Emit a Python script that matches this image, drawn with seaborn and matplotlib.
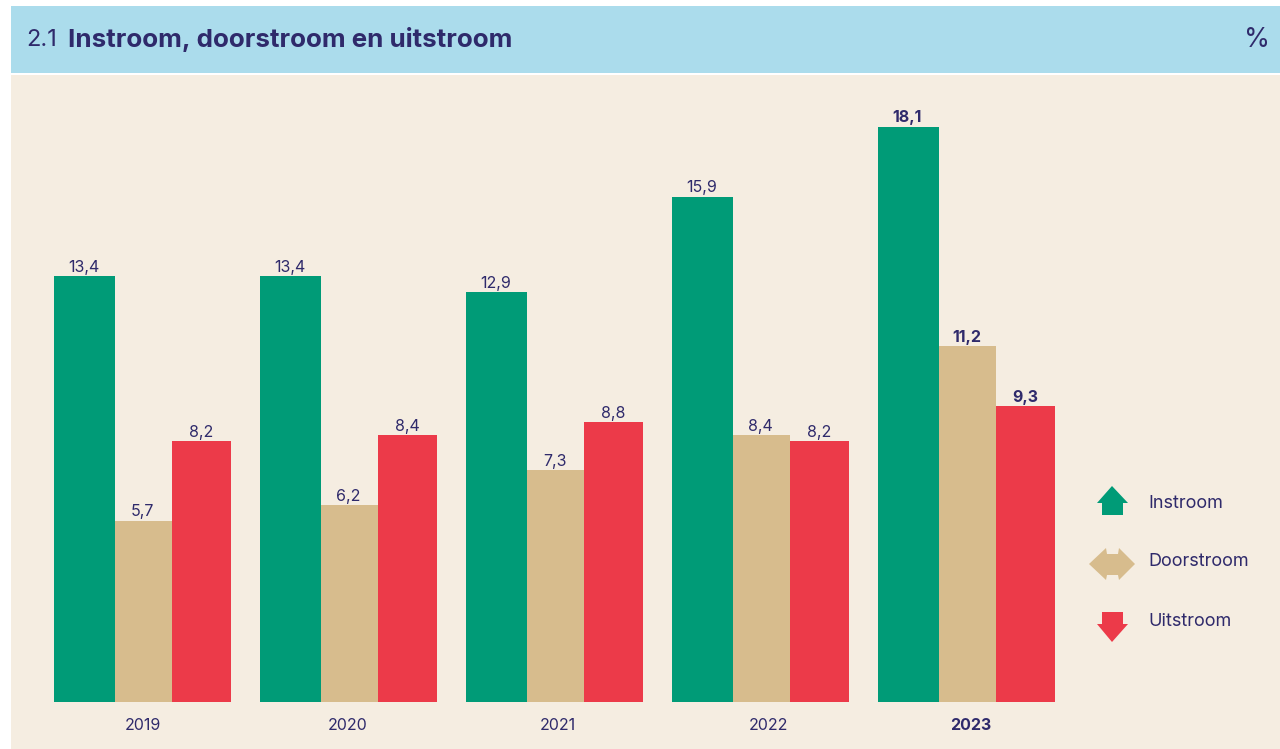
import matplotlib
matplotlib.use('Agg')
import matplotlib.pyplot as plt
from matplotlib.patches import Polygon, Rectangle
import seaborn as sns
import pandas as pd

####### Data #######
years = ['2019', '2020', '2021', '2022', '2023']
instroom = [13.4, 13.4, 12.9, 15.9, 18.1]
doorstroom = [5.7, 6.2, 7.3, 8.4, 11.2]
uitstroom = [8.2, 8.4, 8.8, 8.2, 9.3]
series_names = ['Instroom', 'Doorstroom', 'Uitstroom']
series_colors = ['#009b77', '#d7bc8d', '#ec3a49']
title_nr = '2.1'
title_txt = 'Instroom, doorstroom en uitstroom'
unit_txt = '%'

NAVY = '#2f2a6b'
BEIGE = '#f5ede1'
BLUE = '#abdcec'

Data = pd.DataFrame({'Jaar': years * 3
    ,'Reeks': [s for s in series_names for _ in years]
    ,'Waarde': instroom + doorstroom + uitstroom})

sns.set_theme(style='white')
plt.rcParams['font.family'] = ['Inter', 'DejaVu Sans']

W, H = 1280, 749
fig = plt.figure(figsize=(W / 100, H / 100), dpi=100, facecolor='white')

# Helper: pixel coords of the reference -> figure coords
def px(x, y):
    return (x / W, 1 - y / H)

def add_shape(points, color):
    fig.add_artist(Polygon([px(x, y) for x, y in points], closed=True, facecolor=color,
                           edgecolor='none', transform=fig.transFigure))

# Header band
fig.add_artist(Rectangle(px(11, 73), (W - 11) / W, 67 / H, facecolor=BLUE, edgecolor='none',
                         transform=fig.transFigure))
fig.text(*px(26, 40), title_nr, fontsize=17, color=NAVY, va='center', ha='left')
fig.text(*px(68, 40), title_txt, fontsize=18.7, color=NAVY, va='center', ha='left', fontweight='bold')
fig.text(*px(1270, 40), unit_txt, fontsize=19, color=NAVY, va='center', ha='right')

####### Bars #######
ax = fig.add_axes([11 / W, 0, (W - 11) / W, (H - 75) / H])
ax.set_facecolor(BEIGE)

sns.barplot(data=Data, x='Jaar', y='Waarde', hue='Reeks', hue_order=series_names,
            palette=series_colors, saturation=1, width=0.86, gap=0, legend=False,
            linewidth=0, ax=ax)

unit_x = 206
unit_y = 31.78
ax.set_xlim(-(142.5 - 11) / unit_x, (W - 142.5) / unit_x)
ax.set_ylim(-(H - 702) / unit_y, (702 - 75) / unit_y)

# Value labels with decimal comma, 2023 in bold
for container in ax.containers:
    labels = [f'{b.get_height():.1f}'.replace('.', ',') for b in container]
    texts = ax.bar_label(container, labels=labels, padding=1, fontsize=11.5, color=NAVY)
    texts[-1].set_fontweight('bold')

# Green bars are a little wider and run over the tan ones
for b in ax.containers[0]:
    b.set_width(b.get_width() + 2 / unit_x)
    b.set_zorder(3)

ax.set_xlabel('')
ax.set_ylabel('')
ax.set_yticks([])
# year labels do not sit exactly under the group centres
tick_px = [143, 348, 558, 768, 971]
ax.set_xticks([(p - 142.5) / unit_x for p in tick_px])
ax.set_xticklabels(years, fontsize=11.5, color=NAVY)
ax.get_xticklabels()[-1].set_fontweight('bold')
# axes run to the bottom of the panel, so the labels go inside
ax.tick_params(axis='x', length=0, pad=-22)
sns.despine(ax=ax, left=True, bottom=True)

####### Legend #######
add_shape([(1112, 486), (1128, 503), (1123, 503), (1123, 515), (1102, 515), (1102, 503), (1097, 503)], series_colors[0])
add_shape([(1089, 564), (1106, 548), (1107, 554), (1118, 554), (1119, 548), (1135, 564),
           (1119, 580), (1118, 575), (1107, 575), (1106, 580)], series_colors[1])
add_shape([(1102, 612), (1123, 612), (1123, 624), (1128, 624), (1112, 642), (1097, 624), (1102, 624)], series_colors[2])

for name, y in zip(series_names, [503, 562, 621]):
    fig.text(*px(1148, y), name, fontsize=13, color=NAVY, va='center', ha='left')

fig.savefig('out.png', dpi=100, facecolor='white')
